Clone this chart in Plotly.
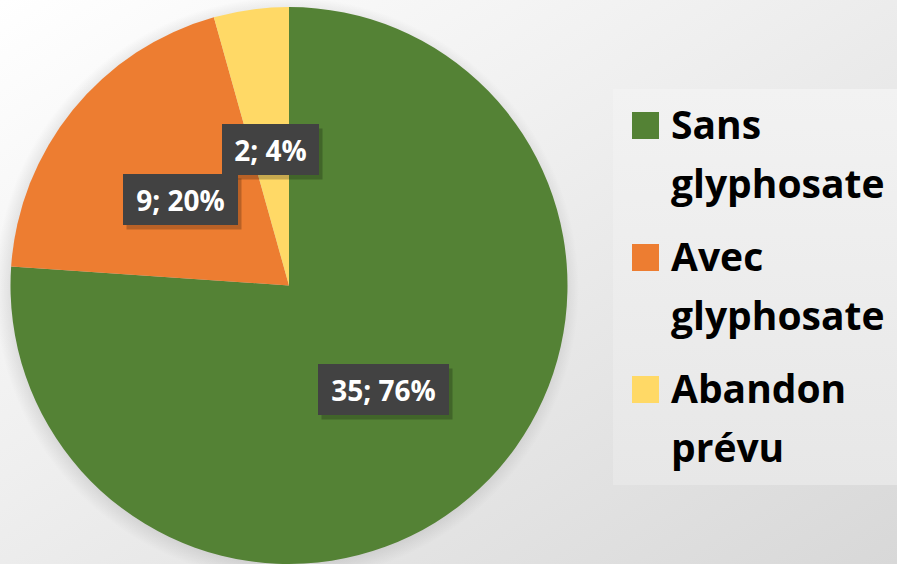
import base64
import plotly.graph_objects as go

# ---- data ----
categories = ["Sans glyphosate", "Avec glyphosate", "Abandon prévu"]
legend_lines = [["Sans", "glyphosate"], ["Avec", "glyphosate"], ["Abandon", "prévu"]]
values = [35, 9, 2]
colors = ["#548235", "#ED7D31", "#FFD966"]

W, H = 897, 564
total = sum(values)
label_texts = [f"{v}; {round(100 * v / total)}%" for v in values]

def px(x):
    return x / W

def py(y):
    return 1 - y / H

def svg_uri(svg):
    return "data:image/svg+xml;base64," + base64.b64encode(svg.encode()).decode()

bg_svg = f"""<svg xmlns='http://www.w3.org/2000/svg' width='{W}' height='{H}'>
<defs><linearGradient id='g' x1='0' y1='0' x2='1' y2='1'>
<stop offset='0' stop-color='#ffffff'/><stop offset='0.45' stop-color='#eeeeee'/><stop offset='1' stop-color='#d8d8d8'/>
</linearGradient>
<radialGradient id='s' cx='0.5' cy='0.5' r='0.5'>
<stop offset='0.9' stop-color='#000' stop-opacity='0.16'/><stop offset='1' stop-color='#000' stop-opacity='0'/>
</radialGradient></defs>
<rect width='{W}' height='{H}' fill='url(#g)'/>
<circle cx='287' cy='289' r='292' fill='url(#s)'/>
</svg>"""

leg_svg = """<svg xmlns='http://www.w3.org/2000/svg' width='284' height='396'>
<defs><linearGradient id='l' x1='0' y1='0' x2='0' y2='1'>
<stop offset='0' stop-color='#f2f2f2'/><stop offset='1' stop-color='#e7e7e7'/>
</linearGradient></defs>
<rect width='284' height='396' fill='url(#l)'/>
</svg>"""

fig = go.Figure()
fig.add_trace(go.Pie(
    labels=categories,
    values=values,
    marker=dict(colors=colors, line=dict(width=0)),
    sort=False,
    direction="clockwise",
    rotation=0,
    textinfo="none",
    hoverinfo="label+value+percent",
    showlegend=False,
    domain=dict(x=[px(289 - 279), px(289 + 279)], y=[0, 557 / H]),
))

images = [
    dict(source=svg_uri(bg_svg), xref="paper", yref="paper", x=0, y=1,
         sizex=1, sizey=1, xanchor="left", yanchor="top", sizing="stretch", layer="below"),
    dict(source=svg_uri(leg_svg), xref="paper", yref="paper", x=px(613), y=py(89),
         sizex=284 / W, sizey=396 / H, xanchor="left", yanchor="top", sizing="stretch", layer="below"),
]

annotations = []
shapes = []

# data label boxes (center x, center y, width, height)
label_boxes = [(383, 389, 131, 51), (180, 199, 115, 51), (270, 149, 97, 51)]
for txt, (cx, cy, bw, bh) in zip(label_texts, label_boxes):
    shapes.append(dict(type="rect", xref="paper", yref="paper",
                       x0=px(cx - bw / 2 + 4), x1=px(cx + bw / 2 + 4),
                       y0=py(cy + bh / 2 + 5), y1=py(cy - bh / 2 + 5),
                       fillcolor="rgba(0,0,0,0.22)", line=dict(width=0)))
    annotations.append(dict(
        text=f"<b>{txt}</b>", x=px(cx), y=py(cy), xref="paper", yref="paper",
        xanchor="center", yanchor="middle", showarrow=False,
        width=bw, height=bh, borderpad=0, borderwidth=0,
        bgcolor="#424242", align="center", valign="middle",
        font=dict(family="Open Sans", size=28, color="#ffffff"),
    ))

# custom legend
for i, (lines, col) in enumerate(zip(legend_lines, colors)):
    top = 112 + 132 * i
    shapes.append(dict(type="rect", xref="paper", yref="paper",
                       x0=px(632), x1=px(659), y0=py(top + 27), y1=py(top),
                       fillcolor=col, line=dict(width=0)))
    for j, line in enumerate(lines):
        cy = 123 + 132 * i + 59 * j
        annotations.append(dict(
            text=f"<b>{line}</b>", x=px(669), y=py(cy), xref="paper", yref="paper",
            xanchor="left", yanchor="middle", showarrow=False,
            font=dict(family="Open Sans", size=39, color="#000000"),
        ))

fig.update_layout(
    width=W, height=H, autosize=False,
    margin=dict(l=0, r=0, t=0, b=0),
    paper_bgcolor="#ececec", plot_bgcolor="#ececec",
    images=images, shapes=shapes, annotations=annotations,
    showlegend=False,
)

fig.write_html(
    "out.html",
    config={"displayModeBar": False},
    post_script="document.body.style.margin='0';document.body.style.padding='0';"
                "document.body.style.overflow='hidden';",
)
